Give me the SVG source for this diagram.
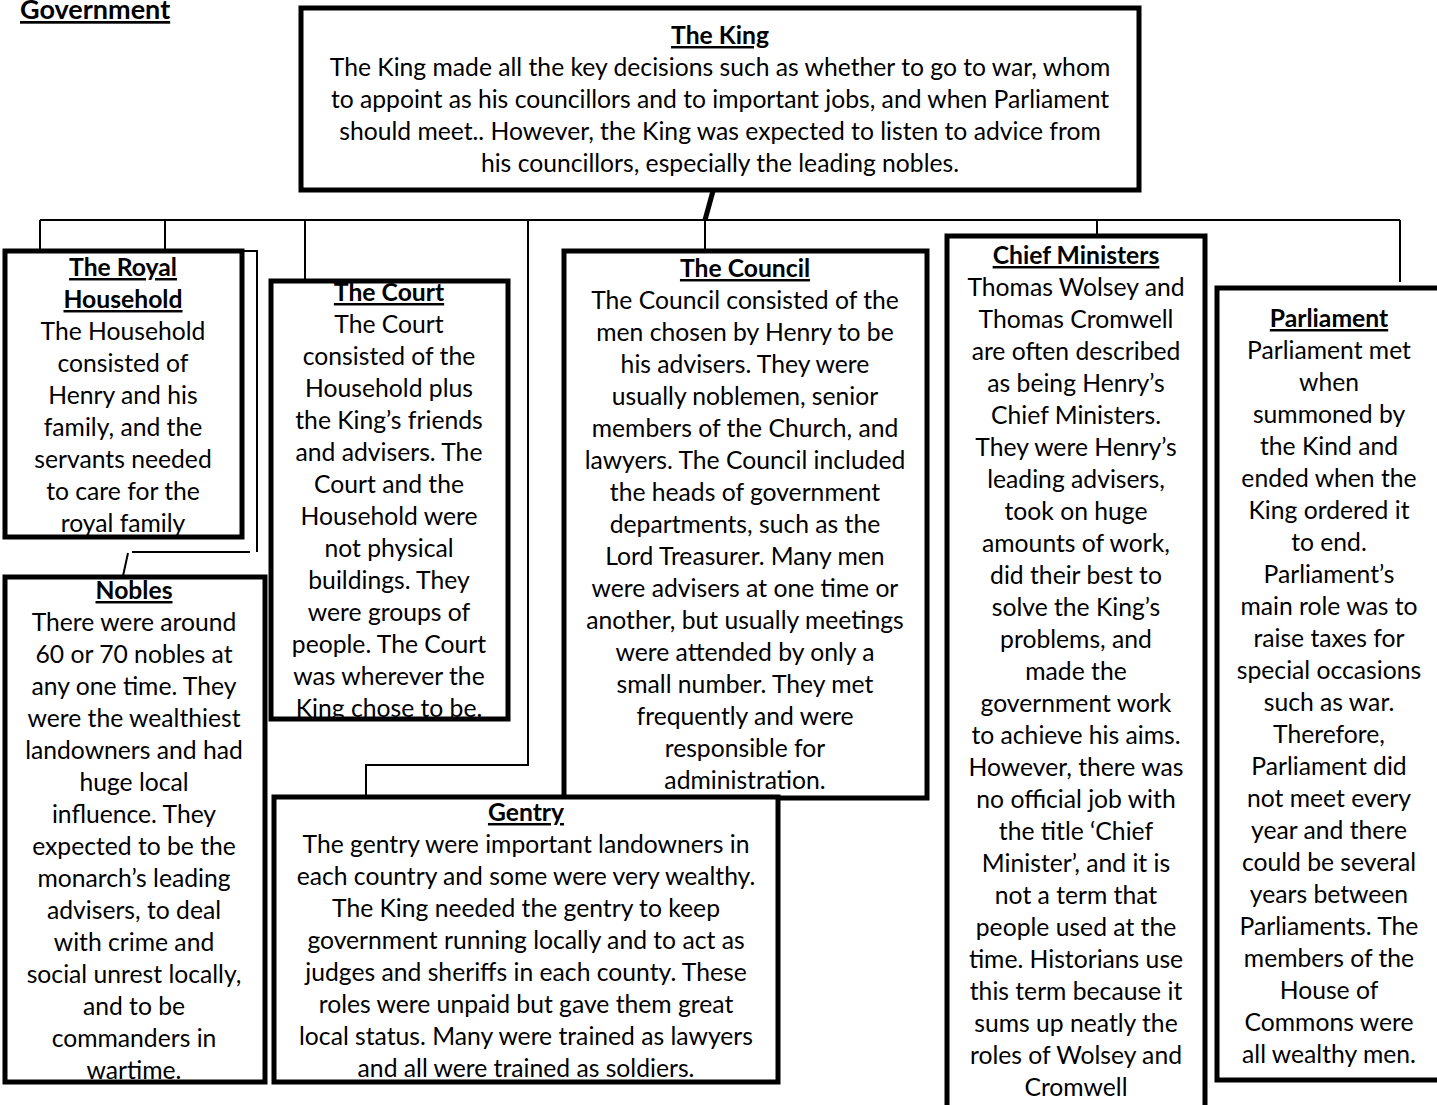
<svg xmlns="http://www.w3.org/2000/svg" width="1437" height="1105" viewBox="0 0 1437 1105">
<style>
.box{fill:#fff;stroke:#000;stroke-width:5}
.c{fill:none;stroke:#000;stroke-width:2}
text{font-family:Lato,"Liberation Sans",sans-serif;font-size:24.7px;fill:#000;text-anchor:middle}
.t{font-weight:bold;text-decoration:underline}
</style>
<rect width="1437" height="1105" fill="#fff"/>
<text x="20" y="19" class="t" style="text-anchor:start;font-size:27px">Government</text>
<g id="connectors">
<line class="c" x1="40" y1="220" x2="1400" y2="220"/>
<line class="c" x1="40" y1="220" x2="40" y2="251"/>
<line class="c" x1="165" y1="220" x2="165" y2="251"/>
<line class="c" x1="305" y1="220" x2="305" y2="281"/>
<polyline class="c" points="528,220 528,765 366,765 366,797"/>
<line class="c" x1="705" y1="220" x2="705" y2="251"/>
<line class="c" x1="1097" y1="220" x2="1097" y2="236"/>
<line class="c" x1="1400" y1="220" x2="1400" y2="282"/>
<line x1="713" y1="191" x2="705" y2="220" stroke="#000" stroke-width="5"/>
<polyline class="c" points="242,251 257,251 257,552"/>
<line class="c" x1="132" y1="552" x2="250" y2="552"/>
<line class="c" x1="128" y1="553" x2="123" y2="576"/>
</g>
<g id="king">
<rect class="box" x="301" y="8" width="838" height="182"/>
<text x="720" y="44" class="t">The King</text>
<text x="720" y="76">The King made all the key decisions such as whether to go to war, whom</text>
<text x="720" y="108">to appoint as his councillors and to important jobs, and when Parliament</text>
<text x="720" y="140">should meet.. However, the King was expected to listen to advice from</text>
<text x="720" y="172">his councillors, especially the leading nobles.</text>
</g>
<g id="royal-household">
<rect class="box" x="5" y="251" width="237" height="286"/>
<text x="123" y="276" class="t">The Royal</text>
<text x="123" y="308" class="t">Household</text>
<text x="123" y="340">The Household</text>
<text x="123" y="372">consisted of</text>
<text x="123" y="404">Henry and his</text>
<text x="123" y="436">family, and the</text>
<text x="123" y="468">servants needed</text>
<text x="123" y="500">to care for the</text>
<text x="123" y="532">royal family</text>
</g>
<g id="court">
<rect class="box" x="271" y="281" width="237" height="438"/>
<text x="389" y="301" class="t">The Court</text>
<text x="389" y="333">The Court</text>
<text x="389" y="365">consisted of the</text>
<text x="389" y="397">Household plus</text>
<text x="389" y="429">the King’s friends</text>
<text x="389" y="461">and advisers. The</text>
<text x="389" y="493">Court and the</text>
<text x="389" y="525">Household were</text>
<text x="389" y="557">not physical</text>
<text x="389" y="589">buildings. They</text>
<text x="389" y="621">were groups of</text>
<text x="389" y="653">people. The Court</text>
<text x="389" y="685">was wherever the</text>
<text x="389" y="717">King chose to be.</text>
</g>
<g id="council">
<rect class="box" x="564" y="251" width="363" height="547"/>
<text x="745" y="277" class="t">The Council</text>
<text x="745" y="309">The Council consisted of the</text>
<text x="745" y="341">men chosen by Henry to be</text>
<text x="745" y="373">his advisers. They were</text>
<text x="745" y="405">usually noblemen, senior</text>
<text x="745" y="437">members of the Church, and</text>
<text x="745" y="469">lawyers. The Council included</text>
<text x="745" y="501">the heads of government</text>
<text x="745" y="533">departments, such as the</text>
<text x="745" y="565">Lord Treasurer. Many men</text>
<text x="745" y="597">were advisers at one time or</text>
<text x="745" y="629">another, but usually meetings</text>
<text x="745" y="661">were attended by only a</text>
<text x="745" y="693">small number. They met</text>
<text x="745" y="725">frequently and were</text>
<text x="745" y="757">responsible for</text>
<text x="745" y="789">administration.</text>
</g>
<g id="chief-ministers">
<rect class="box" x="947" y="236" width="258" height="880"/>
<text x="1076" y="264" class="t">Chief Ministers</text>
<text x="1076" y="296">Thomas Wolsey and</text>
<text x="1076" y="328">Thomas Cromwell</text>
<text x="1076" y="360">are often described</text>
<text x="1076" y="392">as being Henry’s</text>
<text x="1076" y="424">Chief Ministers.</text>
<text x="1076" y="456">They were Henry’s</text>
<text x="1076" y="488">leading advisers,</text>
<text x="1076" y="520">took on huge</text>
<text x="1076" y="552">amounts of work,</text>
<text x="1076" y="584">did their best to</text>
<text x="1076" y="616">solve the King’s</text>
<text x="1076" y="648">problems, and</text>
<text x="1076" y="680">made the</text>
<text x="1076" y="712">government work</text>
<text x="1076" y="744">to achieve his aims.</text>
<text x="1076" y="776">However, there was</text>
<text x="1076" y="808">no official job with</text>
<text x="1076" y="840">the title ‘Chief</text>
<text x="1076" y="872">Minister’, and it is</text>
<text x="1076" y="904">not a term that</text>
<text x="1076" y="936">people used at the</text>
<text x="1076" y="968">time. Historians use</text>
<text x="1076" y="1000">this term because it</text>
<text x="1076" y="1032">sums up neatly the</text>
<text x="1076" y="1064">roles of Wolsey and</text>
<text x="1076" y="1096">Cromwell</text>
</g>
<g id="parliament">
<rect class="box" x="1217" y="288" width="240" height="792"/>
<text x="1329" y="327" class="t">Parliament</text>
<text x="1329" y="359">Parliament met</text>
<text x="1329" y="391">when</text>
<text x="1329" y="423">summoned by</text>
<text x="1329" y="455">the Kind and</text>
<text x="1329" y="487">ended when the</text>
<text x="1329" y="519">King ordered it</text>
<text x="1329" y="551">to end.</text>
<text x="1329" y="583">Parliament’s</text>
<text x="1329" y="615">main role was to</text>
<text x="1329" y="647">raise taxes for</text>
<text x="1329" y="679">special occasions</text>
<text x="1329" y="711">such as war.</text>
<text x="1329" y="743">Therefore,</text>
<text x="1329" y="775">Parliament did</text>
<text x="1329" y="807">not meet every</text>
<text x="1329" y="839">year and there</text>
<text x="1329" y="871">could be several</text>
<text x="1329" y="903">years between</text>
<text x="1329" y="935">Parliaments. The</text>
<text x="1329" y="967">members of the</text>
<text x="1329" y="999">House of</text>
<text x="1329" y="1031">Commons were</text>
<text x="1329" y="1063">all wealthy men.</text>
</g>
<g id="nobles">
<rect class="box" x="5" y="577" width="260" height="505"/>
<text x="134" y="599" class="t">Nobles</text>
<text x="134" y="631">There were around</text>
<text x="134" y="663">60 or 70 nobles at</text>
<text x="134" y="695">any one time. They</text>
<text x="134" y="727">were the wealthiest</text>
<text x="134" y="759">landowners and had</text>
<text x="134" y="791">huge local</text>
<text x="134" y="823">influence. They</text>
<text x="134" y="855">expected to be the</text>
<text x="134" y="887">monarch’s leading</text>
<text x="134" y="919">advisers, to deal</text>
<text x="134" y="951">with crime and</text>
<text x="134" y="983">social unrest locally,</text>
<text x="134" y="1015">and to be</text>
<text x="134" y="1047">commanders in</text>
<text x="134" y="1079">wartime.</text>
</g>
<g id="gentry">
<rect class="box" x="274" y="797" width="504" height="285"/>
<text x="526" y="821" class="t">Gentry</text>
<text x="526" y="853">The gentry were important landowners in</text>
<text x="526" y="885">each country and some were very wealthy.</text>
<text x="526" y="917">The King needed the gentry to keep</text>
<text x="526" y="949">government running locally and to act as</text>
<text x="526" y="981">judges and sheriffs in each county. These</text>
<text x="526" y="1013">roles were unpaid but gave them great</text>
<text x="526" y="1045">local status. Many were trained as lawyers</text>
<text x="526" y="1077">and all were trained as soldiers.</text>
</g>
</svg>
